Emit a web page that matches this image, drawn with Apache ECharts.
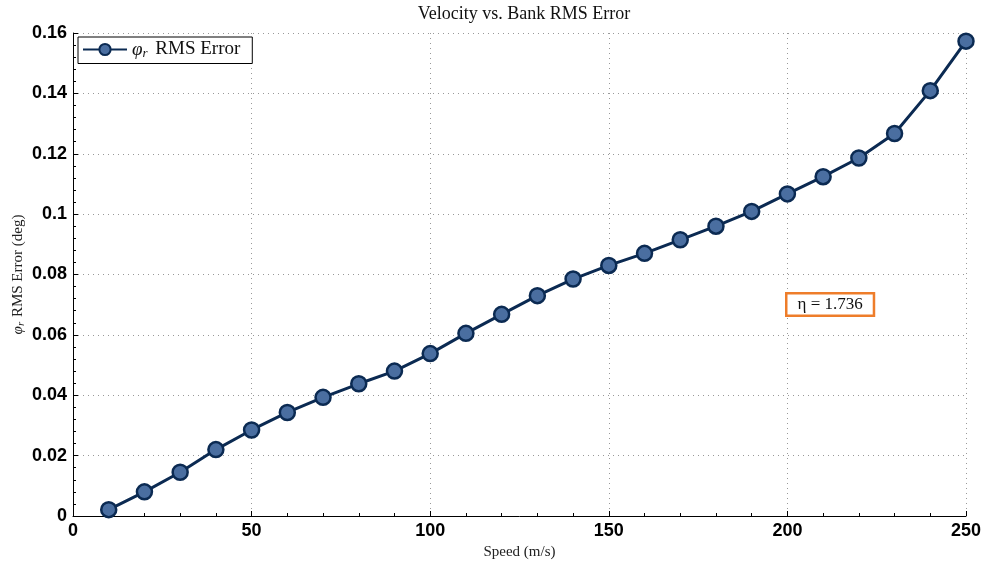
<!DOCTYPE html>
<html>
<head>
<meta charset="utf-8">
<script src="https://cdn.jsdelivr.net/npm/echarts@6/dist/echarts.min.js"></script>
<style>html,body{margin:0;padding:0;background:#fff}#c{width:984px;height:565px}</style>
</head>
<body>
<div id="c"></div>
<script>
const speeds = [10,20,30,40,50,60,70,80,90,100,110,120,130,140,150,160,170,180,190,200,210,220,230,240,250];
const rmsError = [0.0021,0.0080,0.0145,0.0220,0.0285,0.0343,0.0393,0.0438,0.0480,0.0538,0.0605,0.0668,0.0730,0.0785,0.0830,0.0870,0.0915,0.0960,0.1009,0.1067,0.1124,0.1186,0.1267,0.1409,0.1573];
const xTicks = [0,50,100,150,200,250];
const yTicks = [0,0.02,0.04,0.06,0.08,0.1,0.12,0.14,0.16];
const etaText = 'η = 1.736';

const chart = echarts.init(document.getElementById('c'));
const serif = '"Liberation Serif","DejaVu Serif",serif';
const sans = '"Liberation Sans",Arial,sans-serif';
const gridLine = {show:true, lineStyle:{color:'#999', type:[1,4], width:1}};
chart.setOption({
  animation:false,
  backgroundColor:'#fff',
  title:{text:'Velocity vs. Bank RMS Error', left:519, textAlign:'center', top:0,
    textStyle:{fontFamily:serif, fontWeight:'normal', fontSize:18, color:'#111'}},
  grid:{left:73, right:18, top:33, bottom:49, containLabel:false, outerBoundsMode:'none'},
  legend:{left:78, top:37, padding:[3,12,3,4], borderColor:'#000', borderWidth:1, backgroundColor:'#fff',
    itemWidth:44, itemHeight:14, itemGap:4,
    formatter:()=> '{i|φ}{s|r} RMS Error',
    textStyle:{fontFamily:serif, fontSize:19, color:'#111',
      rich:{i:{fontFamily:serif, fontStyle:'italic', fontSize:19, color:'#111'},
            s:{fontFamily:serif, fontStyle:'italic', fontSize:13, color:'#111', verticalAlign:'bottom', padding:[9,3,0,0]}}}},
  xAxis:{type:'value', min:0, max:250, interval:50,
    name:'Speed (m/s)', nameLocation:'middle', nameGap:29, nameMoveOverlap:false,
    nameTextStyle:{fontFamily:serif, fontSize:15, color:'#222'},
    axisLine:{show:true, onZero:false, lineStyle:{color:'#000', width:1}},
    axisTick:{show:true, inside:true, length:5, lineStyle:{color:'#000'}},
    minorTick:{show:true, splitNumber:5, length:3, lineStyle:{color:'#000'}},
    axisLabel:{fontFamily:sans, fontWeight:'bold', fontSize:18, color:'#000', margin:6,
      formatter:v=> xTicks.includes(v) ? String(v) : ''},
    splitLine:gridLine},
  yAxis:{type:'value', min:0, max:0.16, interval:0.02,
    name:'{i|φ}{s|r} RMS Error (deg)', nameLocation:'middle', nameGap:46, nameMoveOverlap:false,
    nameTextStyle:{fontFamily:serif, fontSize:15, color:'#222',
      rich:{i:{fontFamily:serif, fontStyle:'italic', fontSize:15, color:'#222'},
            s:{fontFamily:serif, fontStyle:'italic', fontSize:11, color:'#222', padding:[7,1,0,0]}}},
    axisLine:{show:true, onZero:false, lineStyle:{color:'#000', width:1}},
    axisTick:{show:true, inside:true, length:5, lineStyle:{color:'#000'}},
    minorTick:{show:true, splitNumber:5, length:3, lineStyle:{color:'#000'}},
    axisLabel:{fontFamily:sans, fontWeight:'bold', fontSize:18, color:'#000', margin:6,
      formatter:v=>{ const m = yTicks.find(t=>Math.abs(t-v)<1e-9); return m===undefined?'':String(+m.toFixed(2)); }},
    splitLine:gridLine},
  series:[{
    name:'φr RMS Error', type:'line',
    data:speeds.map((s,i)=>[s,rmsError[i]]),
    symbol:'circle', symbolSize:15, showAllSymbol:true,
    lineStyle:{color:'#0b2a52', width:3},
    itemStyle:{color:'#4a6ea0', borderColor:'#0b2a52', borderWidth:2.5},
    emphasis:{disabled:true}
  }],
  graphic:[{type:'text', left:785, top:292, z:10,
    style:{text:etaText, fontFamily:serif, fontStyle:'normal', fontSize:17, fill:'#111',
      backgroundColor:'#fff', borderColor:'#ee7d2a', borderWidth:2.5, padding:[2,10,1,10]}}]
});
</script>
</body>
</html>
